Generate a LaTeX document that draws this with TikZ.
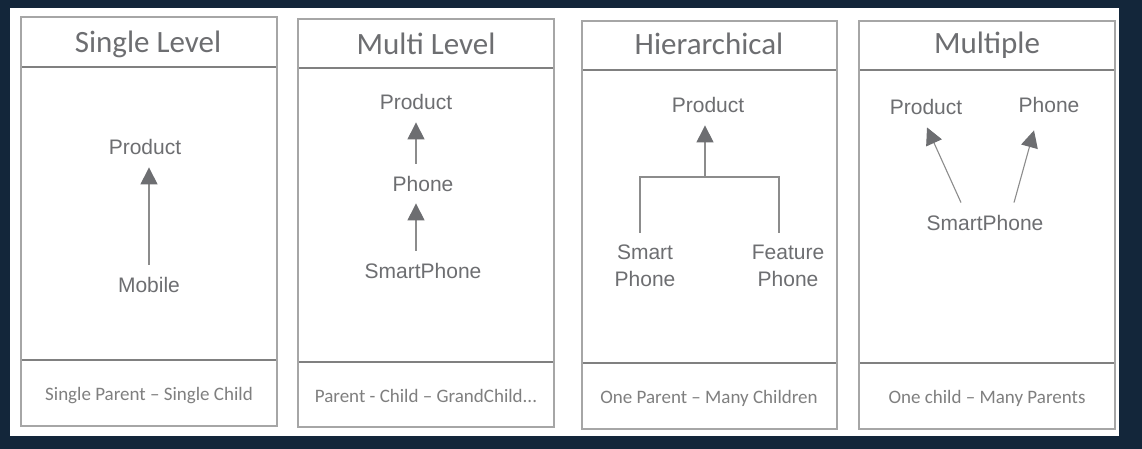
\documentclass[tikz,border=0pt]{standalone}
\usepackage{fontspec}
\setmainfont{Carlito}
\newfontfamily\labelfont{Liberation Sans}
\usetikzlibrary{arrows.meta,positioning}
\definecolor{navy}{HTML}{13263A}
\definecolor{boxgray}{HTML}{A6A6A6}
\definecolor{sepgray}{HTML}{808080}
\definecolor{txtgray}{HTML}{6D6E71}
\definecolor{footgray}{HTML}{7F7F7F}
\definecolor{linegray}{HTML}{8C8C8C}
\definecolor{tipgray}{HTML}{6D6E71}

\begin{document}
\begin{tikzpicture}[x=1pt, y=-1pt,
  box/.style={draw=boxgray, line width=1.2pt},
  sep/.style={draw=sepgray, line width=1.2pt},
  title/.style={anchor=base, text=txtgray, font=\fontsize{31}{37}\selectfont},
  foot/.style={anchor=base, text=footgray, font=\fontsize{19}{23}\selectfont},
  lbl/.style={anchor=base, text=txtgray, inner sep=12pt, font=\labelfont\fontsize{21}{27}\selectfont},
  lbltwo/.style={lbl, anchor=center, align=center},
  link/.style={draw=linegray, line width=1.1pt},
  arr/.style={link, -{Triangle[width=17pt,length=17pt,fill=tipgray,color=tipgray]}}]
  % background
  \fill[navy] (0,0) rectangle (1142,449);
  \fill[white] (10,8) rectangle (1119,436);

  % single level
  \begin{scope}[shift={(21,0)}]
    \draw[sep] (0,67) -- (256,67);
    \draw[sep] (0,360) -- (256,360);
    \draw[box] (0,17) rectangle (256,426);
    \node[title] (t1) at (127,53) {Single Level};
    \node[lbl] (prod1) at (124,155) {Product};
    \node[lbl] (mob1) at (128,292) {Mobile};
    \draw[arr] (mob1.north) -- (mob1.north |- prod1.south);
    \node[foot] (f1) at (128,400) {Single Parent – Single Child};
  \end{scope}

  % multi level
  \begin{scope}[shift={(298,0)}]
    \draw[sep] (0,68) -- (256,68);
    \draw[sep] (0,362) -- (256,362);
    \draw[box] (0,19) rectangle (256,427);
    \node[title] (t2) at (128,55) {Multi Level};
    \node[lbl] (prod2) at (118,110) {Product};
    \node[lbl] (pho2) at (125,191) {Phone};
    \node[lbl] (sph2) at (125,278) {SmartPhone};
    \draw[arr] (prod2.south |- pho2.north) -- (prod2.south);
    \draw[arr] (prod2.south |- sph2.north) -- (prod2.south |- pho2.south);
    \node[foot] (f2) at (128,402) {Parent - Child – GrandChild...};
  \end{scope}

  % hierarchical
  \begin{scope}[shift={(582,0)}]
    \draw[sep] (0,70) -- (255,70);
    \draw[sep] (0,363) -- (255,363);
    \draw[box] (0,21) rectangle (255,429);
    \node[title] (t3) at (127,55) {Hierarchical};
    \node[lbl] (prod3) at (126,113) {Product};
    \node[lbltwo] (smt3) at (63,266) {Smart\\Phone};
    \node[lbltwo] (fea3) at (206,266) {Feature\\Phone};
    \coordinate (jn3) at (123,177);
    \draw[link] ([xshift=-5pt]smt3.north) |- (jn3) -| ([xshift=-9pt]fea3.north);
    \draw[arr] (jn3) -- (jn3 |- prod3.south);
    \node[foot] (f3) at (127,403) {One Parent – Many Children};
  \end{scope}

  % multiple
  \begin{scope}[shift={(859,0)}]
    \draw[sep] (0,70) -- (256,70);
    \draw[sep] (0,363) -- (256,363);
    \draw[box] (0,21) rectangle (256,429);
    \node[title] (t4) at (128,54) {Multiple};
    \node[lbl] (prod4) at (67,115) {Product};
    \node[lbl] (pho4) at (190,113) {Phone};
    \node[lbl] (sp4) at (126,230) {SmartPhone};
    \draw[arr] ([xshift=-24pt]sp4.north) -- ([xshift=1pt]prod4.south);
    \draw[arr] ([xshift=29pt]sp4.north) -- ([xshift=-15pt,yshift=-5pt]pho4.south);
    \node[foot] (f4) at (128,403) {One child – Many Parents};
  \end{scope}
\end{tikzpicture}
\end{document}
